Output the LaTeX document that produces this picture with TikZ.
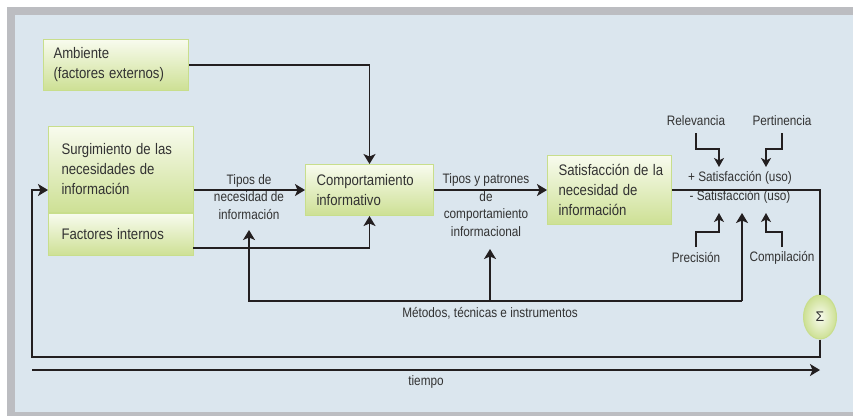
\documentclass[tikz,border=0pt]{standalone}
\usepackage{fontspec}
\usepackage{graphicx}
\setmainfont{Liberation Sans}
\usetikzlibrary{arrows.meta,shapes.geometric}
\definecolor{bgblue}{RGB}{219,230,238}
\definecolor{bggray}{RGB}{188,189,193}
\definecolor{gtop}{RGB}{248,251,238}
\definecolor{gbot}{RGB}{205,224,148}
\definecolor{gborder}{RGB}{200,222,140}
\definecolor{txt}{RGB}{50,50,50}
\definecolor{ln}{RGB}{35,31,32}
\newcommand\nar[1]{\scalebox{0.86}[1]{#1}}
\begin{document}
\begin{tikzpicture}[x=1pt,y=-1pt,
  box/.style={draw=gborder, line width=1pt, top color=gtop, bottom color=gbot,
    anchor=north west, align=left, inner xsep=11pt, inner ysep=0pt,
    text=txt, font=\fontsize{15.3}{20}\selectfont},
  lab/.style={text=txt, align=center, inner sep=0pt, font=\fontsize{13.7}{17.5}\selectfont},
  ln/.style={draw=ln, line width=1.6pt},
  arr/.style={ln, -{Stealth[length=10pt,width=12pt,inset=2.5pt]}},
  sarr/.style={ln, line width=1.4pt, -{Stealth[length=9pt,width=10pt,inset=2.5pt]}}
]
\useasboundingbox (0,0) rectangle (853,416);
\fill[white] (0,0) rectangle (853,416);
\fill[bggray] (7,7) rectangle (853,416);
\fill[bgblue] (15,15) rectangle (853,412);

% boxes
\node[box, minimum width=145, minimum height=51, text width=125, inner xsep=10pt] (amb) at (43,39) {\nar{Ambiente}\\\nar{(factores externos)}};
\node[box, minimum width=145, minimum height=86, text width=119, inner xsep=13pt] (surg) at (48,126) {\nar{Surgimiento de las}\\\nar{necesidades de}\\\nar{información}};
\node[box, minimum width=145, minimum height=42, text width=119, inner xsep=13pt] (fact) at (48,213) {\nar{Factores internos}};
\node[box, minimum width=128, minimum height=51, text width=106] (comp) at (305,164) {\nar{Comportamiento}\\\nar{informativo}};
\node[box, minimum width=124, minimum height=69, text width=102] (sat) at (547,155) {\nar{Satisfacción de la}\\\nar{necesidad de}\\\nar{información}};
\node[ellipse, draw=gborder, line width=1pt, shading=radial, inner color=gtop, outer color=gbot,
  minimum width=33, minimum height=44, inner sep=0pt, text=txt, font=\fontsize{14}{14}\selectfont] (sig) at (820,317) {Σ};

% labels
\node[lab] (l1) at (249,197) {\nar{Tipos de}\\\nar{necesidad de}\\\nar{información}};
\node[lab] (l2) at (486,205) {\nar{Tipos y patrones}\\\nar{de}\\\nar{comportamiento}\\\nar{informacional}};
\node[lab] (plus) at (740,178) {\nar{+ Satisfacción (uso)}};
\node[lab] (minus) at (740,197) {\nar{- Satisfacción (uso)}};
\node[lab] (rel) at (696,121) {\nar{Relevancia}};
\node[lab] (pert) at (782,121) {\nar{Pertinencia}};
\node[lab] (prec) at (696,258) {\nar{Precisión}};
\node[lab] (compil) at (782,258) {\nar{Compilación}};
\node[lab] (met) at (490,313) {\nar{Métodos, técnicas e instrumentos}};

% coordinates
\coordinate (m0) at (249,301);
\coordinate (m1) at (742,301);
\coordinate (m2) at (490,301);
\coordinate (lb) at (32,357);
\coordinate (t0) at (32,370);
\coordinate (t1) at (820,370);
\coordinate (fo) at (193,248);

% connectors
\draw[arr] (amb.east) -| (comp.north);
\draw[arr] (surg.east |- comp.west) -- (comp.west);
\draw[arr] (fo) -| (comp.south);
\draw[arr] (comp.east) -- (sat.west);
\draw[ln] (sat.east) -| (sig.north);
\draw[arr] (sig.south) |- (lb) |- (surg.west |- comp.west);
\draw[arr] (t0) -- (t1);
\node[lab] (tiempo) at (426,382) {\nar{tiempo}};
\draw[arr] (m1) -- (m0) -- (249,230);
\draw[arr] (m1) -- (742,213);
\draw[arr] (m2) -- (490,249);

\draw[sarr] (rel) ++(0,12) |- ++(23,16) -- ++(0,18);
\draw[sarr] (pert) ++(0,12) |- ++(-16,16) -- ++(0,18);
\draw[sarr] (prec) ++(0,-11) |- ++(23,-15) -- ++(0,-19);
\draw[sarr] (compil) ++(0,-11) |- ++(-16,-15) -- ++(0,-19);
\end{tikzpicture}
\end{document}
